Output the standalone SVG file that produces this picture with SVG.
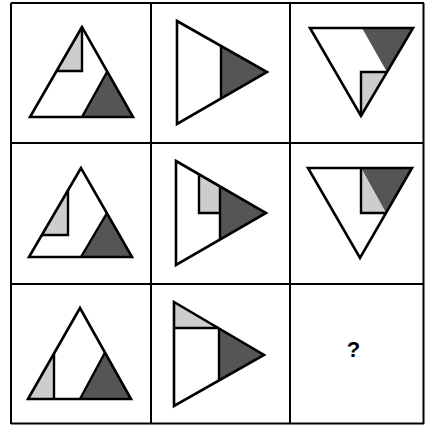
<svg xmlns="http://www.w3.org/2000/svg" width="425" height="425" viewBox="0 0 425 425">
<style>
.bg{fill:#fff}
.grid{stroke:#000;stroke-width:2;fill:none}
.out{fill:none;stroke:#000;stroke-width:2.6;stroke-linejoin:miter}
.ln{fill:none;stroke:#000;stroke-width:2.4}
.dk{fill:#555}
.lt{fill:#cdcdcd}
.q{font-family:"Liberation Sans",Arial,sans-serif;font-size:22px;font-weight:bold;fill:#000}
</style>
<rect class="bg" x="0" y="0" width="425" height="425"/>
<g id="grid" class="grid">
<line x1="11" y1="3" x2="424" y2="3"/>
<line x1="11" y1="143" x2="424" y2="143"/>
<line x1="11" y1="284" x2="424" y2="284"/>
<line x1="11" y1="423.5" x2="424" y2="423.5"/>
<line x1="11" y1="3" x2="11" y2="424"/>
<line x1="151" y1="3" x2="151" y2="424"/>
<line x1="290" y1="3" x2="290" y2="424"/>
<line x1="423.5" y1="3" x2="423.5" y2="424"/>
</g>
<g id="cell1">
<polygon class="lt" points="82,27 82,71 57,71"/>
<polygon class="dk" points="107,72 82,117 133,117"/>
<polyline class="ln" points="82,27 82,71 57,71"/>
<polyline class="ln" points="107,72 82,117"/>
<polygon class="out" points="82,27 30,117 133,117"/>
</g>
<g id="cell2">
<polygon class="dk" points="221,46 267,72 221,98"/>
<line class="ln" x1="221" y1="46" x2="221" y2="98"/>
<polygon class="out" points="177,21 267,72 177,124"/>
</g>
<g id="cell3">
<polygon class="dk" points="362,28 413,28 387,72"/>
<polygon class="lt" points="361,72 387,72 361,116"/>
<polyline class="ln" points="361,116 361,72 387,72"/>
<polygon class="out" points="310,28 413,28 361,116"/>
</g>
<g id="cell4">
<polygon class="lt" points="68,190 68,235 42,235"/>
<polygon class="dk" points="107,213 81,257 132,257"/>
<polyline class="ln" points="68,190 68,235 42,235"/>
<line class="ln" x1="107" y1="213" x2="81" y2="257"/>
<polygon class="out" points="81,168 29,257 132,257"/>
</g>
<g id="cell5">
<polygon class="lt" points="199,174 220,186 220,213 199,213"/>
<polygon class="dk" points="220,186 266,213 220,240"/>
<polyline class="ln" points="199,174 199,213 220,213"/>
<line class="ln" x1="220" y1="186" x2="220" y2="240"/>
<polygon class="out" points="176,161 266,213 176,265"/>
</g>
<g id="cell6">
<polygon class="dk" points="361,168 412,168 386,213"/>
<polygon class="lt" points="361,168 386,213 361,213"/>
<polyline class="ln" points="361,168 361,213 386,213"/>
<polygon class="out" points="308,168 412,168 360,258"/>
</g>
<g id="cell7">
<polygon class="lt" points="54,353.5 54,399 28,399"/>
<polygon class="dk" points="105,352.5 80,399 131,399"/>
<line class="ln" x1="54" y1="353.5" x2="54" y2="399"/>
<line class="ln" x1="105" y1="352.5" x2="80" y2="399"/>
<polygon class="out" points="80,308 28,399 131,399"/>
</g>
<g id="cell8">
<polygon class="lt" points="174,302 218.5,328 174,328"/>
<polygon class="dk" points="219,328.5 264,355 219,380.5"/>
<line class="ln" x1="174" y1="328" x2="219" y2="328"/>
<line class="ln" x1="219" y1="328" x2="219" y2="381"/>
<polygon class="out" points="174,302 264,355 174,406"/>
</g>
<g id="cell9">
<text class="q" x="353.5" y="357" text-anchor="middle">?</text>
</g>
</svg>
